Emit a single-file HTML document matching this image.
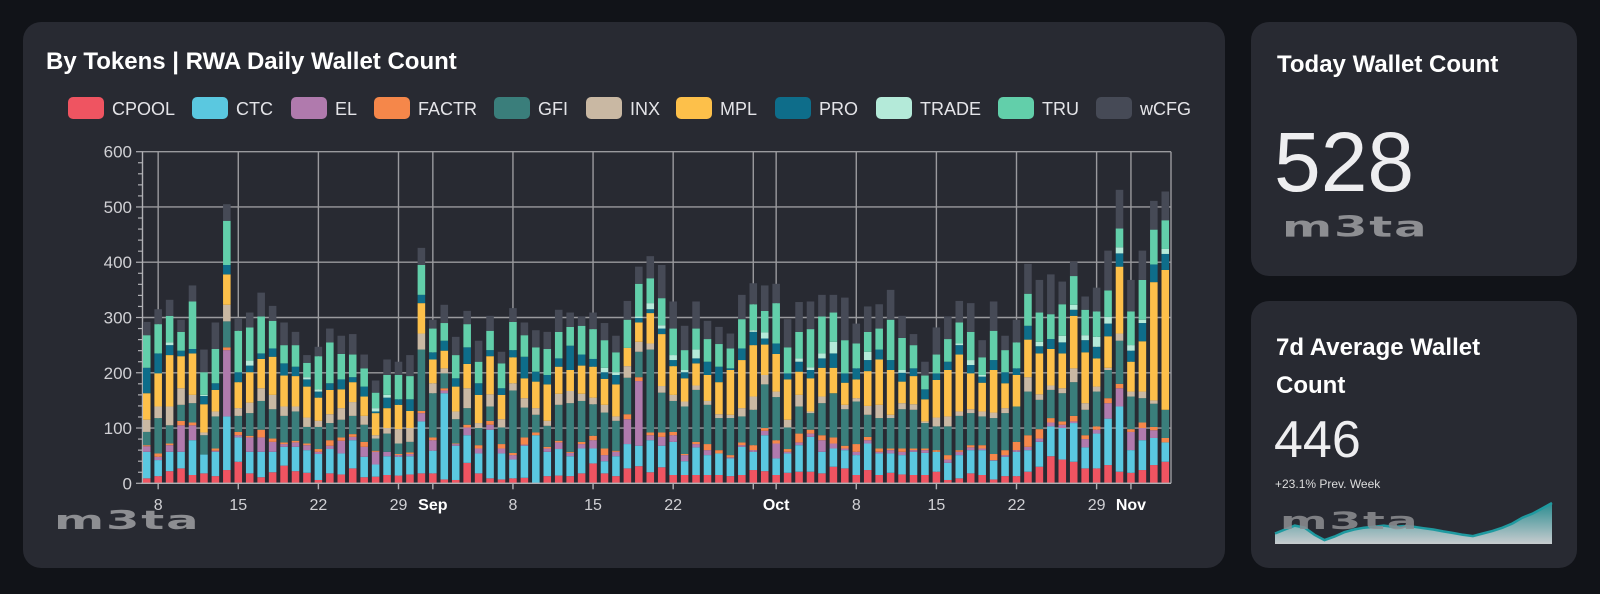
<!DOCTYPE html>
<html><head><meta charset="utf-8">
<style>
html,body{margin:0;padding:0;}
body{width:1600px;height:594px;background:#111318;position:relative;overflow:hidden;font-family:"Liberation Sans",Arial,sans-serif;}
.card{position:absolute;background:#282a32;border-radius:18px;}
.t{position:absolute;color:#fff;font-weight:bold;font-size:24px;white-space:nowrap;}
.logo{position:absolute;font-family:"DejaVu Sans",sans-serif;font-weight:bold;color:#8d8e92;letter-spacing:1px;transform-origin:0 0;white-space:nowrap;}
</style></head>
<body>
<div class="card" style="left:23px;top:22px;width:1202px;height:546px;"></div>
<div class="card" style="left:1251px;top:22px;width:326px;height:254px;"></div>
<div class="card" style="left:1251px;top:301px;width:326px;height:267px;"></div>

<div class="t" style="left:46px;top:48px;">By Tokens | RWA Daily Wallet Count</div>
<div class="t" style="left:1277px;top:51px;">Today Wallet Count</div>
<div style="position:absolute;left:1274px;top:117px;font-size:84px;color:#eeeef0;line-height:90px;">528</div>
<div class="logo" style="left:1282px;top:211px;font-size:26px;transform:scale(1.85,1.1);">m3ta</div>

<div class="t" style="left:1276px;top:329px;line-height:38px;">7d Average Wallet<br>Count</div>
<div style="position:absolute;left:1274px;top:412px;font-size:52px;color:#eeeef0;line-height:56px;">446</div>
<div style="position:absolute;left:1275px;top:477px;font-size:12px;color:#ddd;">+23.1% Prev. Week</div>

<div class="logo" style="left:54px;top:506px;font-size:26px;transform:scale(1.85,1.0);">m3ta</div>

<svg id="chart" width="1600" height="594" style="position:absolute;left:0;top:0;" xmlns="http://www.w3.org/2000/svg"></svg>
<div class="logo" style="left:1280px;top:507px;font-size:24px;transform:scale(1.9,1.0);opacity:0.85;">m3ta</div>

<script>
const seriesNames = ["CPOOL","CTC","EL","FACTR","GFI","INX","MPL","PRO","TRADE","TRU","wCFG"];
const seriesColors = ["#ef5461","#5ac8e0","#b07aad","#f5874a","#3a7e7b","#c9b8a3","#fdc04a","#0e6d8a","#b4ead9","#62cfaa","#464a56"];
const startDate = "2023-08-07";
const CPOOL = [9,13,22,27,15,18,13,24,39,18,11,20,32,22,19,6,18,16,27,11,12,15,14,16,18,18,7,6,37,18,9,7,9,10,0,13,14,13,18,36,18,13,27,31,20,29,15,15,15,15,15,13,15,24,22,15,19,21,21,18,30,27,15,24,15,19,16,15,15,21,6,9,18,15,7,13,13,21,30,49,43,39,27,27,33,21,19,24,33,39];
const CTC = [48,29,35,30,63,34,44,97,44,39,46,37,34,44,41,47,44,38,51,37,22,34,34,33,94,41,156,62,50,36,88,47,34,58,87,44,48,36,45,27,22,36,44,37,58,39,60,25,50,36,39,32,51,33,65,30,35,48,63,39,33,33,36,48,39,35,35,42,40,36,31,42,42,45,34,35,44,39,45,54,57,70,38,63,84,118,41,54,49,35];
const EL = [10,6,12,48,27,0,2,120,4,26,26,18,5,8,9,4,6,23,6,18,23,8,3,4,15,19,5,3,14,9,9,9,8,2,0,6,12,6,8,15,11,8,45,117,9,16,12,11,6,9,0,2,3,3,8,27,3,5,6,21,9,3,6,6,3,6,6,3,5,0,6,6,5,3,1,3,3,6,6,7,6,3,15,7,28,33,33,22,14,0];
const FACTR = [2,6,3,8,5,0,4,5,6,3,14,6,3,3,3,5,10,6,5,9,2,0,2,3,4,5,4,1,5,6,7,8,4,13,5,3,3,2,4,8,12,2,9,7,5,8,6,2,4,11,6,4,5,9,5,6,5,16,7,9,11,5,14,6,6,3,6,3,3,3,8,3,4,6,11,9,15,21,17,8,6,10,7,6,9,8,5,10,6,8];
const GFI = [24,64,33,29,35,35,58,47,29,41,52,53,48,53,30,40,31,32,33,31,22,33,19,19,111,80,27,44,30,31,26,30,113,54,32,38,65,88,74,57,65,54,66,46,150,72,56,86,94,71,58,67,47,64,79,78,39,49,30,58,80,66,77,40,55,55,71,70,46,43,52,62,58,52,65,67,64,79,53,51,51,61,46,63,51,78,59,44,42,51];
const INX = [22,21,34,30,15,5,9,30,14,19,23,26,17,9,17,11,16,21,25,16,6,10,26,25,29,18,9,14,36,9,22,15,13,17,12,9,20,22,13,12,14,8,21,18,11,12,11,9,8,7,7,6,15,24,17,10,14,21,3,12,0,8,6,16,24,6,11,10,3,16,18,8,7,9,10,9,0,26,10,8,9,25,12,9,4,13,9,12,6,0];
const MPL = [48,60,93,58,75,51,39,55,47,55,53,69,56,55,56,42,44,34,36,35,40,36,44,31,55,43,32,45,44,51,69,44,47,36,48,66,49,38,51,56,47,58,33,35,55,94,52,42,40,47,58,81,87,93,55,68,73,42,60,52,46,40,34,63,82,81,39,51,40,68,84,103,65,52,77,45,57,68,74,66,63,95,92,51,57,121,54,91,214,253];
const PRO = [46,36,18,10,8,15,12,17,18,12,10,15,22,17,13,11,12,18,9,18,3,19,10,21,15,13,18,15,30,21,11,12,13,39,18,17,15,44,20,14,12,17,0,8,7,10,11,11,9,24,28,3,21,24,11,19,11,18,15,17,26,17,20,20,18,18,16,14,18,12,15,17,15,11,18,20,12,25,13,18,20,11,22,21,23,24,20,33,32,29];
const TRADE = [0,0,5,0,0,2,0,0,0,9,0,0,0,0,4,4,0,0,0,0,6,5,0,0,0,0,0,0,0,0,0,0,0,0,0,0,0,0,0,0,8,5,0,3,11,6,9,4,16,0,0,0,0,3,11,0,0,6,5,9,21,0,0,15,0,0,5,0,0,0,0,3,9,3,0,0,0,0,8,0,12,9,9,18,12,11,10,6,0,9];
const TRU = [59,53,48,34,86,41,62,80,75,60,67,50,33,39,26,60,74,46,41,33,28,36,44,42,54,43,32,42,42,39,35,45,51,39,44,47,48,34,52,54,50,36,51,59,45,49,48,36,38,41,41,36,53,47,39,73,47,48,69,67,53,60,45,36,38,73,58,42,25,34,41,38,51,32,53,40,47,58,53,45,57,52,46,46,48,34,61,72,63,52];
const wCFG = [24,27,29,22,29,41,48,30,23,27,43,27,41,24,14,17,25,33,37,25,22,28,24,38,31,16,33,33,24,38,27,21,25,23,31,31,40,26,17,30,31,30,34,31,40,60,49,44,49,33,31,27,44,38,46,35,51,54,50,39,32,77,36,46,44,54,40,20,25,49,41,39,52,31,53,26,41,54,59,72,41,26,24,43,72,70,57,53,52,52];
const yTicks = [0,100,200,300,400,500,600];
const xTickDates = ["2023-08-08","2023-08-15","2023-08-22","2023-08-29","2023-09-01","2023-09-08","2023-09-15","2023-09-22","2023-09-29","2023-10-01","2023-10-08","2023-10-15","2023-10-22","2023-10-29","2023-11-01"];
const xTickLabels = ["8","15","22","29","Sep","8","15","22","","Oct","8","15","22","29","Nov"];
const sparkValues = [330,345,360,352,325,305,318,335,345,352,356,360,355,358,356,350,345,338,332,325,320,330,340,352,368,390,405,425,446];

const allSeries = [CPOOL,CTC,EL,FACTR,GFI,INX,MPL,PRO,TRADE,TRU,wCFG];
const NS = "http://www.w3.org/2000/svg";
const svg = document.getElementById("chart");
const plotL = 141, plotR = 1171, y0px = 483.3, y600px = 151.7;
const nDays = CPOOL.length;
const band = (plotR - plotL) / 90;
const barW = band * 0.66;
const DAY = 86400000;
const t0 = Date.parse(startDate + "T00:00:00Z");
function xIdx(i){ return plotL + band * (i + 0.5); }
function xDate(s){ return xIdx((Date.parse(s + "T00:00:00Z") - t0) / DAY); }
function yScale(v){ return y0px - (v / 600) * (y0px - y600px); }
function mk(tag, attrs){ const e = document.createElementNS(NS, tag); for (const k in attrs) e.setAttribute(k, attrs[k]); return e; }

yTicks.forEach(v => {
  const l = mk("line",{x1:plotL+1,x2:plotR,y1:yScale(v),y2:yScale(v),stroke:"#9a9a9e","stroke-width":1.4});
  
  
  svg.appendChild(l);
  const t = mk("text",{x:132,y:yScale(v)+6,"text-anchor":"end",fill:"#d0d0d4","font-size":17,"font-family":"Liberation Sans, sans-serif"});
  t.textContent = v;
  
  
  svg.appendChild(t);
});
for (let v = 0; v <= 600; v += 20) {
  const tk = mk("line",{x1: v%100===0 ? 136 : 138, x2:142, y1:yScale(v), y2:yScale(v), stroke:"#b0b0b4","stroke-width":1.2});
  
  
  svg.appendChild(tk);
}
xTickDates.forEach((d,i) => {
  const x = xDate(d);
  const g = mk("line",{x1:x,x2:x,y1:y600px,y2:y0px,stroke:"#9a9a9e","stroke-width":1.4});
  
  
  svg.appendChild(g);
  const tk = mk("line",{x1:x,x2:x,y1:y0px,y2:y0px+6,stroke:"#b0b0b4","stroke-width":1.4});
  
  
  svg.appendChild(tk);
  const lab = xTickLabels[i];
  if (!lab) return;
  const bold = isNaN(+lab);
  const t = mk("text",{x:x,y:510,"text-anchor":"middle",fill:bold?"#ffffff":"#d0d0d4","font-size":16,"font-weight":bold?"bold":"normal","font-family":"Liberation Sans, sans-serif"});
  t.textContent = lab;
  
  
  svg.appendChild(t);
});
const ax = mk("line",{x1:142.5,x2:142.5,y1:y600px,y2:y0px,stroke:"#b0b0b4","stroke-width":1.4});


svg.appendChild(ax);
const rb = mk("line",{x1:plotR,x2:plotR,y1:y600px,y2:y0px,stroke:"#9a9a9e","stroke-width":1.4});


svg.appendChild(rb);

for (let i = 0; i < nDays; i++) {
  let cum = 0;
  for (let s = 0; s < allSeries.length; s++) {
    const v = allSeries[s][i];
    if (!v) continue;
    const r = mk("rect",{x:xIdx(i)-barW/2,width:barW,y:yScale(cum+v),height:yScale(cum)-yScale(cum+v),fill:seriesColors[s]});
    
    
    svg.appendChild(r);
    cum += v;
  }
}
const base = mk("line",{x1:plotL,x2:plotR,y1:y0px,y2:y0px,stroke:"#b0b0b4","stroke-width":1.4});


svg.appendChild(base);

const legendX = [68,192,291,374,494,586,676,775,876,998,1096];
seriesNames.forEach((n,i) => {
  const g = mk("g",{});
  
  
  g.appendChild(mk("rect",{x:legendX[i],y:97,width:36,height:22,rx:5,fill:seriesColors[i]}));
  const t = mk("text",{x:legendX[i]+44,y:115,fill:"#e4e4e8","font-size":18,"font-family":"Liberation Sans, sans-serif"});
  t.textContent = n;
  g.appendChild(t);
  svg.appendChild(g);
});

const defs = mk("defs",{});
const lg = mk("linearGradient",{id:"sg",x1:0,y1:0,x2:0,y2:1});
lg.appendChild(mk("stop",{offset:"0","stop-color":"#2a8c90"}));
lg.appendChild(mk("stop",{offset:"1","stop-color":"#c8cccf"}));
defs.appendChild(lg);
svg.appendChild(defs);
const sL = 1275, sR = 1552, sB = 544, sT = 503, sMin = 290, sMax = 446;
function sx(i){ return sL + (sR - sL) * i / (sparkValues.length - 1); }
function sy(v){ return sB - (v - sMin) / (sMax - sMin) * (sB - sT); }
let pts = sparkValues.map((v,i) => sx(i).toFixed(1) + "," + sy(v).toFixed(1)).join(" ");
const area = mk("polygon",{points: sL + "," + sB + " " + pts + " " + sR + "," + sB, fill:"url(#sg)"});


svg.appendChild(area);
const line = mk("polyline",{points:pts,fill:"none",stroke:"#1f9aa0","stroke-width":2.5});


svg.appendChild(line);
</script>
</body></html>
